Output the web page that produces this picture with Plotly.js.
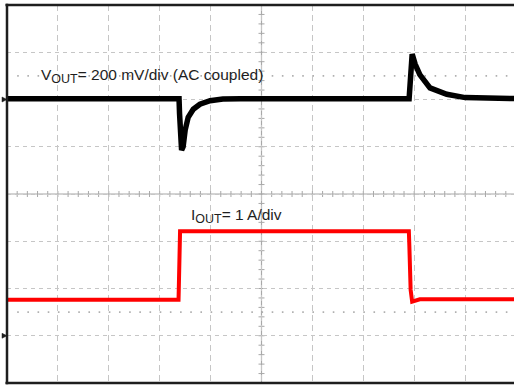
<!DOCTYPE html>
<html>
<head>
<meta charset="utf-8">
<script src="https://cdn.plot.ly/plotly-3.0.1.min.js"></script>
<style>
html,body{margin:0;padding:0;background:#fff;overflow:hidden;}
#chart{width:517px;height:385px;}
</style>
</head>
<body>
<div id="chart"></div>
<script>
// Time axis in scope divisions (10 div across)
const vTime = [0, 3.38, 3.39, 3.40, 3.43, 3.46, 3.50, 3.56, 3.66, 3.79, 3.99, 4.24, 4.58, 7.90, 7.93, 7.96, 8.02, 8.11, 8.31, 8.64, 9.00, 10];
// V_OUT, AC coupled, mV
const vOut  = [3, 3, -60, -150, -214, -200, -130, -75, -41, -20, -5, 2, 3, 3, 158, 192, 149, 105, 49, 22, 8, 4];
const iTime = [0, 3.37, 3.375, 3.385, 3.40, 3.42, 7.895, 7.905, 7.915, 7.93, 7.96, 8.02, 8.11, 10];
// I_OUT, A
const iOut  = [0.76, 0.76, 0.99, 2.18, 2.21, 2.21, 2.21, 1.9, 1.5, 0.97, 0.72, 0.74, 0.77, 0.77];

const vLabel = 'V<sub><span style="font-size:115%">OUT</span></sub>= 200 mV/div (AC coupled)';
const iLabel = 'I<sub><span style="font-size:115%">OUT</span></sub>= 1 A/div';

const traces = [
  {x: vTime, y: vOut, type: 'scatter', mode: 'lines', yaxis: 'y',
   line: {color: '#000000', width: 5.5}, hoverinfo: 'skip'},
  {x: iTime, y: iOut, type: 'scatter', mode: 'lines', yaxis: 'y2',
   line: {color: '#ff0000', width: 4}, hoverinfo: 'skip'}
];

const shapes = [];
// center cross lines
shapes.push({type:'line', layer:'below', xref:'paper', yref:'paper', x0:0.5, x1:0.5, y0:0, y1:1, line:{color:'#a8a8a8', width:1.2}});
shapes.push({type:'line', layer:'below', xref:'paper', yref:'paper', x0:0, x1:1, y0:0.5, y1:0.5, line:{color:'#a8a8a8', width:1.2}});
for (let k = 1; k < 40; k++) {
  shapes.push({type:'line', layer:'below', xref:'paper', yref:'paper', xsizemode:'pixel', xanchor:0.5,
    x0:-3, x1:3, y0:k/40, y1:k/40, line:{color:'#a8a8a8', width:1}});
}
for (let k = 1; k < 50; k++) {
  shapes.push({type:'line', layer:'below', xref:'paper', yref:'paper', ysizemode:'pixel', yanchor:0.5,
    x0:k/50, x1:k/50, y0:-3, y1:3, line:{color:'#a8a8a8', width:1}});
}
// sparse dotted lines at half divisions
[1.5/8, 6.5/8].forEach(function(p){
  shapes.push({type:'line', layer:'below', xref:'paper', yref:'paper', x0:0.02, x1:1, y0:p, y1:p,
    line:{color:'#b0b0b0', width:1.6, dash:'1.6px,8.58px'}});
});
// frame
shapes.push({type:'line', xref:'paper', yref:'paper', x0:0, x1:0, y0:-0.003, y1:1.003, line:{color:'#1e1e1e', width:2.5}});
shapes.push({type:'line', xref:'paper', yref:'paper', x0:-0.003, x1:1, y0:1, y1:1, line:{color:'#1e1e1e', width:2.5}});
shapes.push({type:'line', xref:'paper', yref:'paper', x0:-0.003, x1:1, y0:0, y1:0, line:{color:'#1e1e1e', width:2.5}});
// ground markers
[6/8, 1/8].forEach(function(p){
  shapes.push({type:'path', xref:'paper', yref:'paper', xsizemode:'pixel', ysizemode:'pixel', xanchor:0, yanchor:p,
    path:'M -5,2.5 L 0,0 L -5,-2.5 Z', fillcolor:'#1e1e1e', line:{color:'#1e1e1e', width:0.5}});
});

const layout = {
  width: 517, height: 385,
  margin: {l: 7, r: 1, t: 5, b: 2},
  paper_bgcolor: '#ffffff', plot_bgcolor: '#ffffff',
  showlegend: false,
  font: {family: '"Liberation Sans", Arial, sans-serif', color: '#1e1e1e', size: 15.5},
  xaxis: {range: [0, 10], dtick: 1, tick0: 0, showgrid: true, gridcolor: '#c6c6c6', gridwidth: 1,
          griddash: '6px,4px', zeroline: false, showticklabels: false, ticks: '', showline: false, fixedrange: true},
  yaxis: {range: [-1200, 400], dtick: 200, tick0: 0, showgrid: true, gridcolor: '#c6c6c6', gridwidth: 1,
          griddash: '4px,4px', zeroline: false, showticklabels: false, ticks: '', showline: false, fixedrange: true},
  yaxis2: {range: [-1, 7], overlaying: 'y', showgrid: false, zeroline: false, showticklabels: false,
           ticks: '', showline: false, fixedrange: true},
  shapes: shapes,
  annotations: [
    {text: vLabel, xref: 'paper', yref: 'paper', x: 0.062, y: 0.812, xanchor: 'left', yanchor: 'middle',
     showarrow: false, font: {size: 15.5, color: '#1e1e1e'}},
    {text: iLabel, xref: 'paper', yref: 'paper', x: 0.357, y: 0.442, xanchor: 'left', yanchor: 'middle',
     showarrow: false, font: {size: 15.5, color: '#1e1e1e'}}
  ]
};

Plotly.newPlot('chart', traces, layout, {displayModeBar: false, staticPlot: true});
</script>
</body>
</html>
